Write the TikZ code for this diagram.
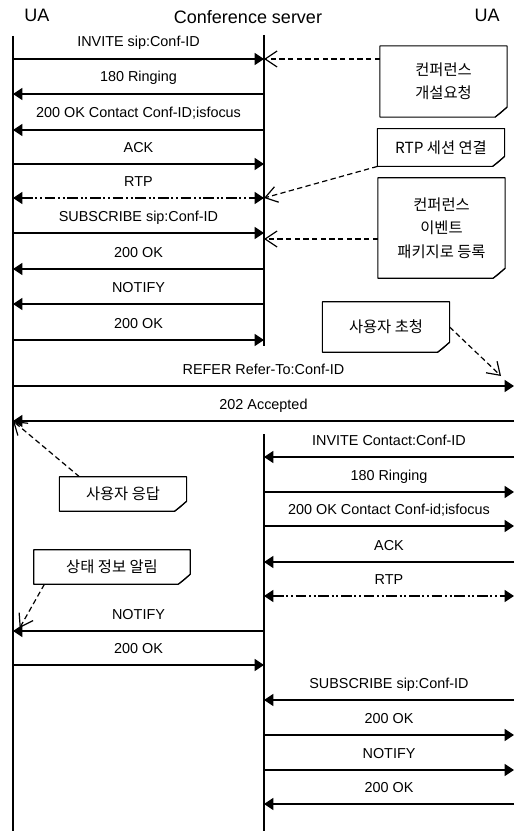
\documentclass[tikz,border=0pt]{standalone}
\usepackage{fontspec}
\setmainfont{Liberation Sans}
\newfontfamily\kofont{Noto Sans CJK KR}
\usetikzlibrary{arrows.meta}

\begin{document}
\begin{tikzpicture}[
x=0.75pt, y=-0.75pt,
headnode/.style={font=\fontsize{13.5}{16}\selectfont},
lifeline/.style={line width=1pt},
msg/.style={line width=1pt, -{Triangle[length=7pt,width=9pt]}},
rtpmsg/.style={line width=1pt, {Triangle[length=7pt,width=9pt]}-{Triangle[length=7pt,width=9pt]}, dash pattern=on 8pt off 2pt on 1.5pt off 2pt on 1.5pt off 2pt},
msglabel/.style={font=\fontsize{10.8}{13}\selectfont, inner sep=0pt, text height=8pt, text depth=2.5pt, above=6pt},
notenode/.style={font=\kofont\fontsize{11.5}{17.5}\selectfont, align=center, inner sep=0pt, minimum width=95pt},
noteline/.style={line width=0.8pt, line join=round},
notearrow/.style={line width=0.9pt, dash pattern=on 4pt off 2.5pt, -{Straight Barb[length=9pt,width=12pt]}},
]
\useasboundingbox (0,0) rectangle (515,831);

% Header nodes
\node[headnode] (ualeft)   at (37,15)  {UA};
\node[headnode] (server)   at (248,17) {Conference server};
\node[headnode] (uaright)  at (487,15) {UA};

% Lifelines
\coordinate (L) at (13,36);
\coordinate (S) at (264,35);
\coordinate (R) at (514,35);
\draw[lifeline] (L) -- (L |- 0,831);
\draw[lifeline] (S) -- (S |- 0,346);
\draw[lifeline] (S |- 0,434) -- (S |- 0,831);

% Conference creation
\draw[msg] (L |- 0,59) -- node[msglabel] {INVITE sip:Conf-ID} (S |- 0,59);
\draw[msg] (S |- 0,94) -- node[msglabel] {180 Ringing} (L |- 0,94);
\draw[msg] (S |- 0,130) -- node[msglabel] {200 OK Contact Conf-ID;isfocus} (L |- 0,130);
\draw[msg] (L |- 0,164) -- node[msglabel] {ACK} (S |- 0,164);
\draw[rtpmsg] (L |- 0,198) -- node[msglabel] {RTP} (S |- 0,198);
\draw[msg] (L |- 0,233) -- node[msglabel] {SUBSCRIBE sip:Conf-ID} (S |- 0,233);
\draw[msg] (S |- 0,269) -- node[msglabel] {200 OK} (L |- 0,269);
\draw[msg] (S |- 0,304) -- node[msglabel] {NOTIFY} (L |- 0,304);
\draw[msg] (L |- 0,340) -- node[msglabel] {200 OK} (S |- 0,340);

% Invitation of the other UA
\draw[msg] (L |- 0,386) -- node[msglabel] {REFER Refer-To:Conf-ID} (R |- 0,386);
\draw[msg] (R |- 0,421) -- node[msglabel] {202 Accepted} (L |- 0,421);
\draw[msg] (R |- 0,457) -- node[msglabel] {INVITE Contact:Conf-ID} (S |- 0,457);
\draw[msg] (S |- 0,492) -- node[msglabel] {180 Ringing} (R |- 0,492);
\draw[msg] (S |- 0,526) -- node[msglabel] {200 OK Contact Conf-id;isfocus} (R |- 0,526);
\draw[msg] (R |- 0,562) -- node[msglabel] {ACK} (S |- 0,562);
\draw[rtpmsg] (S |- 0,596) -- node[msglabel] {RTP} (R |- 0,596);
\draw[msg] (S |- 0,631) -- node[msglabel] {NOTIFY} (L |- 0,631);
\draw[msg] (L |- 0,665) -- node[msglabel] {200 OK} (S |- 0,665);
\draw[msg] (R |- 0,700) -- node[msglabel] {SUBSCRIBE sip:Conf-ID} (S |- 0,700);
\draw[msg] (S |- 0,735) -- node[msglabel] {200 OK} (R |- 0,735);
\draw[msg] (S |- 0,770) -- node[msglabel] {NOTIFY} (R |- 0,770);
\draw[msg] (R |- 0,804) -- node[msglabel] {200 OK} (S |- 0,804);

% Note nodes
\node[notenode, minimum height=53pt]   (noteopen)   at (443.5,81.5) {컨퍼런스\\개설요청};
\node[notenode, minimum height=28pt]   (notertp)    at (441,147.5)  {RTP 세션 연결};
\node[notenode, minimum height=75pt]   (noteevent)  at (441.5,228)  {컨퍼런스\\이벤트\\패키지로 등록};
\node[notenode, minimum height=37.5pt] (noteinvite) at (386,327)    {사용자 초청};
\node[notenode, minimum height=25.5pt] (noteanswer) at (123,494)    {사용자 응답};
\node[notenode, minimum height=25.5pt, minimum width=117pt] (noteinform) at (112,567) {상태 정보 알림};

% Folded corner outlines
\foreach \n in {noteopen, notertp, noteevent, noteinvite, noteanswer, noteinform} {
  \draw[noteline] (\n.north west) -- (\n.north east) -- ([yshift=7.5pt]\n.south east)
    -- ([xshift=-9pt]\n.south east) -- (\n.south west) -- cycle;
  \draw[noteline] ([yshift=7.5pt]\n.south east) -- ([xshift=-5pt,yshift=3pt]\n.south east)
    -- ([xshift=-9pt]\n.south east);
}

% Note pointers
\coordinate (referhint) at (501,376);
\draw[notearrow] (noteopen.west |- 0,59) -- (S |- 0,59);
\draw[notearrow] (notertp.south west) -- (S |- 0,198);
\draw[notearrow] (noteevent.west |- 0,239) -- (S |- 0,239);
\draw[notearrow] (noteinvite.east) -- (referhint);
\draw[notearrow] ([xshift=15pt]noteanswer.north west) -- (L |- 0,421);
\draw[notearrow] ([xshift=8pt]noteinform.south west) -- ([xshift=5pt]L |- 0,628);
\end{tikzpicture}
\end{document}
